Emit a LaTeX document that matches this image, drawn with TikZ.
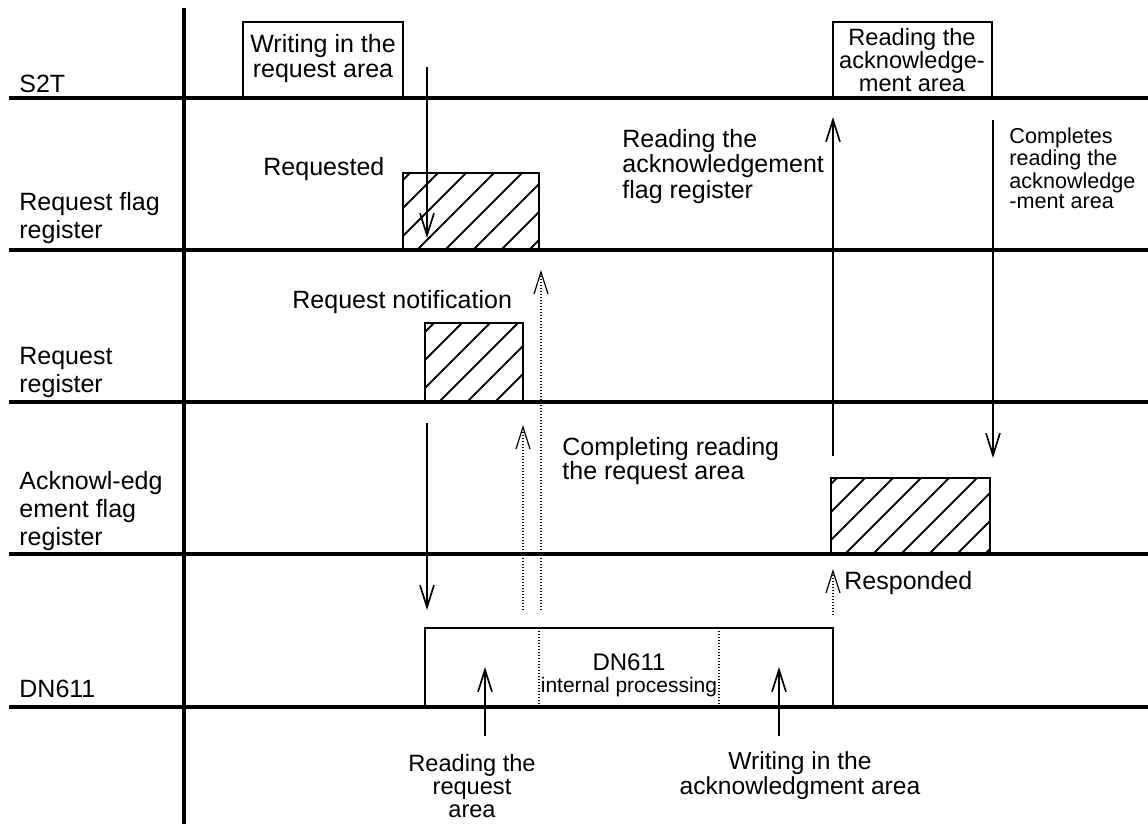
\documentclass[tikz,border=0pt]{standalone}
\usepackage{fontspec}
\setmainfont{Liberation Sans}
\usetikzlibrary{arrows.meta,calc,positioning}

\begin{document}
\begin{tikzpicture}[x=0.5pt, y=-0.5pt, inner sep=0pt,
    >={Straight Barb[length=11pt,width=7pt]}]

    % Estilos para lineas, cajas y textos
    \tikzstyle{fila}=[line width=2pt]
    \tikzstyle{caja}=[line width=1pt]
    \tikzstyle{flecha}=[->, line width=0.85pt]
    \tikzstyle{punteada}=[line width=0.6pt, dash pattern=on 0.6pt off 0.9pt]
    \tikzstyle{etiqueta}=[anchor=base west, align=left, font=\fontsize{12.5}{14}\selectfont]
    \tikzstyle{texto}=[anchor=base west, align=left, font=\fontsize{12.5}{11.5}\selectfont]
    \tikzstyle{centrado}=[anchor=base, align=center, font=\fontsize{11.8}{11.3}\selectfont]
    \tikzstyle{rayado}=[caja, path picture={
        \foreach \k in {-4,...,7}
            \draw[line width=0.9pt] ($(path picture bounding box.south west)+(\k*28+14,0)$) -- ++(120,-120);
    }]

    \useasboundingbox (0,0) rectangle (1148,827);

    % Cajas abiertas de S2T
    \draw[caja] (243,98) |- (403,22) -- (403,98);
    \draw[caja] (833,98) |- (992,22) -- (992,98);

    % Registros rayados
    \draw[rayado] (403,173) rectangle (539,250);
    \draw[rayado] (425,323) rectangle (523,402);
    \draw[rayado] (831,478) rectangle (990,554);

    % Procesamiento interno del DN611
    \draw[caja] (425,707) |- (833,628) -- (833,707);
    \draw[punteada] (539,628) -- (539,707);
    \draw[punteada] (719,628) -- (719,707);

    % Ejes: filas y separador vertical
    \foreach \y in {98,250,402,554,707}
        \draw[fila] (9,\y) -- (1148,\y);
    \draw[line width=1.7pt] (184,8) -- (184,824);

    % Nombres de las filas (base = ultima linea)
    \node[etiqueta] (s2t) at (19,92) {S2T};
    \node[etiqueta] (rfr) at (19,238) {Request flag\\register};
    \node[etiqueta] (rr)  at (19,392) {Request\\register};
    \node[etiqueta] (afr) at (19,545) {Acknowl-edg\\ement flag\\register};
    \node[etiqueta] (dnr) at (19,697) {DN611};

    % Textos de las cajas
    \node[centrado, font=\fontsize{12.5}{12.5}\selectfont] (wreq) at (323,77) {Writing in the\\request area};
    \node[centrado] (rack) at (912,91) {Reading the\\acknowledge-\\ment area};
    \node[centrado, font=\fontsize{12}{11}\selectfont] (dnt) at (629,670) {DN611};
    \node[centrado, font=\fontsize{10.5}{10}\selectfont] (dnsub) at (629,692) {internal processing};

    % Textos de los eventos
    \node[texto] (reqd) at (263,175) {Requested};
    \node[texto] (rafr) at (622,198) {Reading the\\acknowledgement\\flag register};
    \node[texto, font=\fontsize{10.8}{10}\selectfont] (comp) at (1009,208) {Completes\\reading the\\acknowledge\\-ment area};
    \node[texto] (rnot) at (292,308) {Request notification};
    \node[texto, font=\fontsize{12.5}{12}\selectfont] (crra) at (562,479) {Completing reading\\the request area};
    \node[texto] (resp) at (844,589) {Responded};
    \node[centrado] (rra) at (472,817) {Reading the\\request\\area};
    \node[centrado, font=\fontsize{12.3}{11}\selectfont] (wack) at (800,794) {Writing in the\\acknowledgment area};

    % Extremos de las flechas
    \coordinate (w0) at (427,67);   \coordinate (w1) at (427,238);
    \coordinate (n0) at (427,423);  \coordinate (n1) at (427,610);
    \coordinate (r0) at (485,736);  \coordinate (r1) at (485,667);
    \coordinate (k0) at (779,736);  \coordinate (k1) at (779,667);
    \coordinate (a0) at (833,456);  \coordinate (a1) at (833,117);
    \coordinate (c0) at (993,120);  \coordinate (c1) at (993,458);
    \coordinate (p0) at (523,610);  \coordinate (p1) at (523,425);
    \coordinate (q0) at (541,610);  \coordinate (q1) at (541,270);
    \coordinate (s0) at (833,615);  \coordinate (s1) at (833,569);

    % Flechas continuas
    \draw[flecha] (w0) -- (w1);
    \draw[flecha] (n0) -- (n1);
    \draw[flecha] (r0) -- (r1);
    \draw[flecha] (k0) -- (k1);
    \draw[flecha] (a0) -- (a1);
    \draw[flecha] (c0) -- (c1);

    % Flechas punteadas
    \draw[flecha, punteada] (p0) -- (p1);
    \draw[flecha, punteada] (q0) -- (q1);
    \draw[flecha, punteada] (s0) -- (s1);
\end{tikzpicture}
\end{document}
